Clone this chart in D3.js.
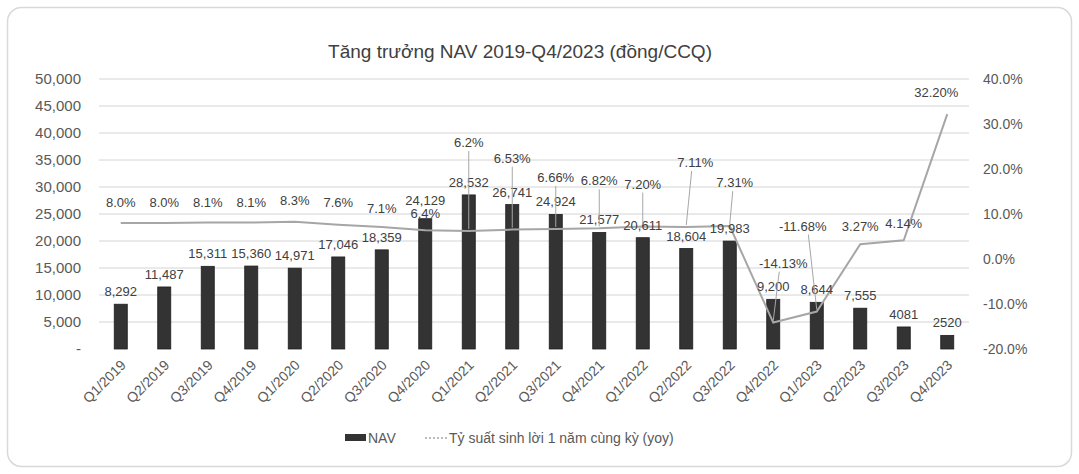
<!DOCTYPE html>
<html>
<head>
<meta charset="utf-8">
<script src="https://cdn.jsdelivr.net/npm/d3@7"></script>
<style>
  body { margin: 0; background: #fff; }
  text { font-family: "Liberation Sans", Arial, sans-serif; }
</style>
</head>
<body>
<div id="chart"></div>
<script>
var quarters = ["Q1/2019","Q2/2019","Q3/2019","Q4/2019","Q1/2020","Q2/2020","Q3/2020","Q4/2020",
  "Q1/2021","Q2/2021","Q3/2021","Q4/2021","Q1/2022","Q2/2022","Q3/2022","Q4/2022",
  "Q1/2023","Q2/2023","Q3/2023","Q4/2023"];
var nav = [8292, 11487, 15311, 15360, 14971, 17046, 18359, 24129, 28532, 26741, 24924, 21577,
  20611, 18604, 19983, 9200, 8644, 7555, 4081, 2520];
var navLabels = ["8,292","11,487","15,311","15,360","14,971","17,046","18,359","24,129","28,532",
  "26,741","24,924","21,577","20,611","18,604","19,983","9,200","8,644","7,555","4081","2520"];
var yoy = [8.0, 8.0, 8.1, 8.1, 8.3, 7.6, 7.1, 6.4, 6.2, 6.53, 6.66, 6.82, 7.20, 7.11, 7.31,
  -14.13, -11.68, 3.27, 4.14, 32.20];
var yoyLabels = ["8.0%","8.0%","8.1%","8.1%","8.3%","7.6%","7.1%","6.4%","6.2%","6.53%","6.66%",
  "6.82%","7.20%","7.11%","7.31%","-14.13%","-11.68%","3.27%","4.14%","32.20%"];
var leftTicks = [0, 5000, 10000, 15000, 20000, 25000, 30000, 35000, 40000, 45000, 50000];
var rightTicks = [-20, -10, 0, 10, 20, 30, 40];

// label placement (dx, dy from the point)
var navLabelDy = [-8,-8,-8,-8,-8,-8,-8,-14,-8,-8,-8,-8,-8,-8,-8,-8,-8,-8,-8,-8];
var yoyLabelDx = [0,0,0,0,0,0,0,0,0,0,0,0,0,9,5,10,-14,0,0,-11];
var yoyLabelDy = [-16,-16,-16,-16,-17,-18,-14,-12,-84,-67,-47,-43,-38,-60,-39,-55,-81,-13,-12,-17];

var width = 1079, height = 474;
var margin = {left: 99, right: 110, top: 79, bottom: 125};

var svg = d3.select("#chart").append("svg")
  .attr("width", width).attr("height", height);

svg.append("rect")
  .attr("x", 7.5).attr("y", 7.5).attr("width", width - 15).attr("height", height - 15)
  .attr("rx", 14).attr("fill", "#fff").attr("stroke", "#d9d9d9").attr("stroke-width", 1.5);

var x = d3.scaleBand().domain(quarters).range([margin.left, width - margin.right]).paddingInner(0.7).paddingOuter(0.35);
var y = d3.scaleLinear().domain([0, 50000]).range([height - margin.bottom, margin.top]);
var y2 = d3.scaleLinear().domain([-20, 40]).range([height - margin.bottom, margin.top]);

var plotL = margin.left, plotR = width - margin.right;

// gridlines
svg.append("g").selectAll("line").data(leftTicks.slice(1)).enter().append("line")
  .attr("x1", plotL).attr("x2", plotR)
  .attr("y1", function(d) { return y(d); }).attr("y2", function(d) { return y(d); })
  .attr("stroke", "#d4d4d4").attr("stroke-width", 1);

// title
svg.append("text").attr("x", 520).attr("y", 58).attr("text-anchor", "middle")
  .attr("font-size", 19).attr("fill", "#404040").text("Tăng trưởng NAV 2019-Q4/2023 (đồng/CCQ)");

// left axis
var fmt = d3.format(",");
svg.append("g").selectAll("text").data(leftTicks).enter().append("text")
  .attr("x", 81).attr("y", function(d) { return y(d) + 5; })
  .attr("text-anchor", "end").attr("font-size", 15).attr("fill", "#595959")
  .text(function(d) { return d === 0 ? "-" : fmt(d); });

// right axis
svg.append("g").selectAll("text").data(rightTicks).enter().append("text")
  .attr("x", 983).attr("y", function(d) { return y2(d) + 5; })
  .attr("font-size", 14).attr("fill", "#595959")
  .text(function(d) { return d.toFixed(1) + "%"; });

// bars
svg.append("g").selectAll("rect").data(nav).enter().append("rect")
  .attr("x", function(d, i) { return x(quarters[i]); })
  .attr("width", x.bandwidth())
  .attr("y", function(d) { return y(d); })
  .attr("height", function(d) { return y(0) - y(d); })
  .attr("fill", "#333333").attr("stroke", "#1f1f1f").attr("stroke-width", 0.8);

// x labels
svg.append("g").selectAll("text").data(quarters).enter().append("text")
  .attr("transform", function(d) {
    return "translate(" + (x(d) + x.bandwidth() / 2 + 6) + "," + (y(0) + 17) + ") rotate(-45)";
  })
  .attr("text-anchor", "end").attr("font-size", 14).attr("fill", "#595959")
  .text(function(d) { return d; });

// yoy line
var line = d3.line()
  .x(function(d, i) { return x(quarters[i]) + x.bandwidth() / 2; })
  .y(function(d) { return y2(d); });
svg.append("path").datum(yoy).attr("d", line)
  .attr("fill", "none").attr("stroke", "#a6a6a6").attr("stroke-width", 2);

// nav labels
svg.append("g").selectAll("text").data(nav).enter().append("text")
  .attr("x", function(d, i) { return x(quarters[i]) + x.bandwidth() / 2; })
  .attr("y", function(d, i) { return y(d) + navLabelDy[i]; })
  .attr("text-anchor", "middle").attr("font-size", 13).attr("fill", "#404040")
  .text(function(d, i) { return navLabels[i]; });

// yoy leader lines
svg.append("g").selectAll("line").data(yoy).enter()
  .filter(function(d, i) { return yoyLabelDy[i] < -30; })
  .append("line")
  .attr("x1", function(d) { var i = yoy.indexOf(d); return x(quarters[i]) + x.bandwidth() / 2; })
  .attr("y1", function(d) { return y2(d) - 2; })
  .attr("x2", function(d) { var i = yoy.indexOf(d); return x(quarters[i]) + x.bandwidth() / 2 + yoyLabelDx[i] * 0.6; })
  .attr("y2", function(d) { var i = yoy.indexOf(d); return y2(d) + yoyLabelDy[i] + 4; })
  .attr("stroke", "#a6a6a6").attr("stroke-width", 1);

// yoy labels
svg.append("g").selectAll("text").data(yoy).enter().append("text")
  .attr("x", function(d, i) { return x(quarters[i]) + x.bandwidth() / 2 + yoyLabelDx[i]; })
  .attr("y", function(d, i) { return y2(d) + yoyLabelDy[i]; })
  .attr("text-anchor", "middle").attr("font-size", 13).attr("fill", "#404040")
  .text(function(d, i) { return yoyLabels[i]; });

// legend
var lg = svg.append("g");
lg.append("rect").attr("x", 345).attr("y", 434).attr("width", 21).attr("height", 7).attr("fill", "#333");
lg.append("text").attr("x", 368).attr("y", 443).attr("font-size", 14).attr("fill", "#595959").text("NAV");
lg.append("line").attr("x1", 425).attr("x2", 447).attr("y1", 438).attr("y2", 438)
  .attr("stroke", "#a6a6a6").attr("stroke-width", 1.5).attr("stroke-dasharray", "2,2");
lg.append("text").attr("x", 449).attr("y", 443).attr("font-size", 14).attr("fill", "#595959")
  .text("Tỷ suất sinh lời 1 năm cùng kỳ (yoy)");
</script>
</body>
</html>
